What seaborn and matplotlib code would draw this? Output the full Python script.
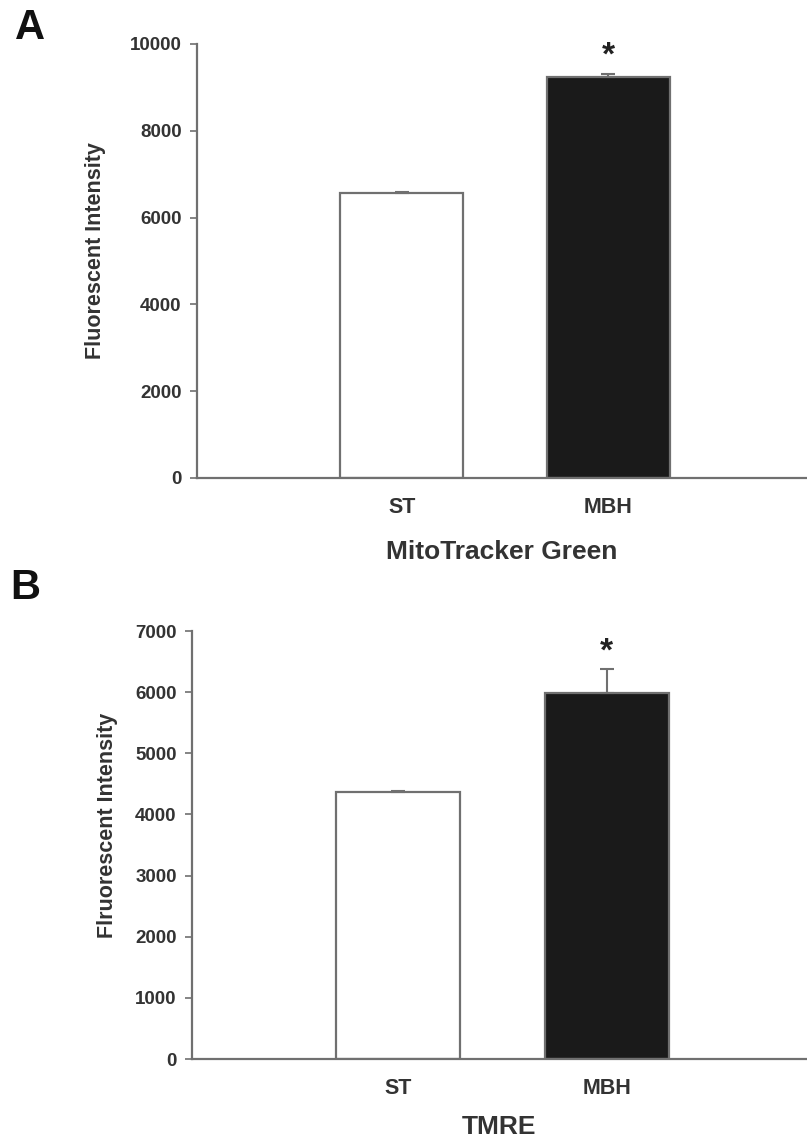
import matplotlib
matplotlib.use("Agg")
import matplotlib.pyplot as plt
import seaborn as sns
import pandas as pd

sns.set_style("white")
plt.rcParams['font.family'] = ['Liberation Sans', 'DejaVu Sans']

categories = ["ST", "MBH"]
mito_values = [6560, 9240]
mito_errors = [30, 60]
tmre_values = [4370, 5990]
tmre_errors = [10, 390]
bar_colors = ["#ffffff", "#1a1a1a"]

W, H = 807, 1145
fig = plt.figure(figsize=(W / 100, H / 100), dpi=100)

def panel(rect, values, errors, ymax, step, xlabel, ylabel, letter, letter_pos,
          ylab_xy, xlabelpad, star_off):
    ax = fig.add_axes(rect)
    df = pd.DataFrame({"group": categories, "value": values})
    sns.barplot(data=df, x="group", y="value", hue="group", palette=bar_colors,
                legend=False, width=0.595, edgecolor="#707070", linewidth=1.6,
                errorbar=None, ax=ax)
    ax.errorbar(range(len(categories)), values, yerr=[[0] * len(errors), errors],
                fmt="none", ecolor="#707070", elinewidth=1.5, capsize=5, capthick=1.5)
    star_y = values[1] + errors[1] + ymax * star_off
    ax.text(1, star_y, "*", ha="center", va="center", fontsize=24, fontweight="bold", color="#222222")
    ax.set_xlim(-0.99, 1.96)
    ax.set_ylim(0, ymax)
    ax.set_yticks(range(0, ymax + 1, step))
    for s in ["top", "right"]:
        ax.spines[s].set_visible(False)
    for s in ["left", "bottom"]:
        ax.spines[s].set_color("#707070")
        ax.spines[s].set_linewidth(1.6)
    ax.tick_params(axis="y", left=True, length=5, width=1.2, color="#707070",
                   labelsize=13.5, labelcolor="#333333", pad=6)
    ax.tick_params(axis="x", bottom=False, labelsize=15.5, labelcolor="#333333", pad=10)
    for t in ax.get_yticklabels() + ax.get_xticklabels():
        t.set_fontweight("bold")
    ax.set_xlabel(xlabel, fontsize=19, fontweight="bold", color="#333333", labelpad=xlabelpad)
    ax.set_ylabel(ylabel, fontsize=15.5, fontweight="bold", color="#333333")
    ax.yaxis.set_label_coords(*ylab_xy)
    fig.text(letter_pos[0], letter_pos[1], letter, fontsize=30, fontweight="bold",
             ha="center", va="center", color="#111111")
    return ax

panel([197 / W, 1 - 478 / H, 1 - 197 / W, (478 - 44) / H], mito_values, mito_errors,
      10000, 2000, "MitoTracker Green", "Fluorescent Intensity", "A", (30 / W, 1 - 28 / H),
      (-0.150, 0.525), 16, 0.042)
panel([192 / W, 1 - 1059 / H, 1 - 192 / W, (1059 - 631) / H], tmre_values, tmre_errors,
      7000, 1000, "TMRE", "Flruorescent Intensity", "B", (25 / W, 1 - 588 / H),
      (-0.121, 0.547), 12, 0.04)

fig.savefig("out.png", dpi=100, facecolor="white")
